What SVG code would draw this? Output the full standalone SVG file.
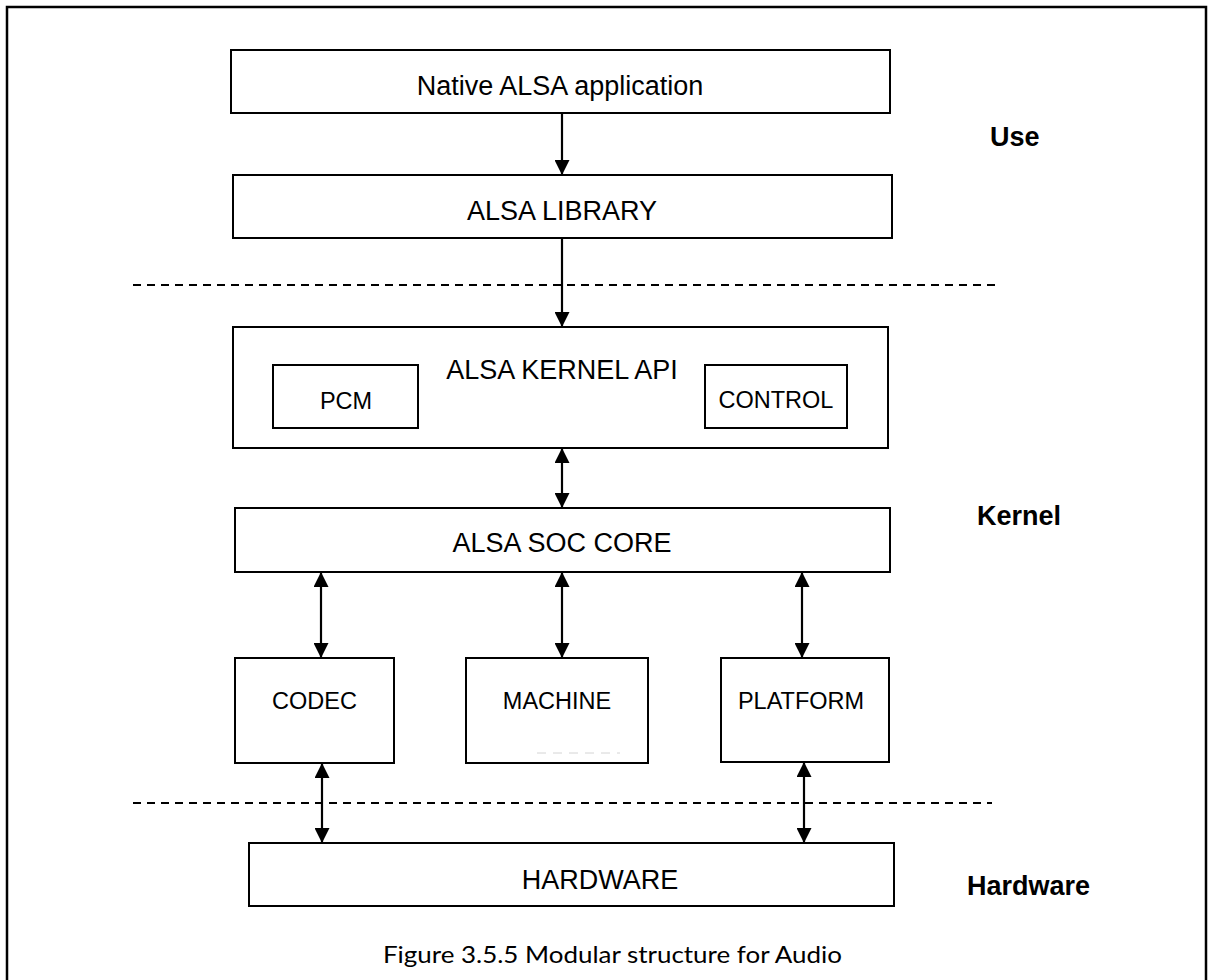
<svg xmlns="http://www.w3.org/2000/svg" width="1213" height="980" viewBox="0 0 1213 980">
<style>
.box{fill:#fff;stroke:#000;stroke-width:2}
.t{font-family:"Liberation Sans",Arial,sans-serif;font-size:27px;fill:#000;text-anchor:middle}
.s{font-family:"Liberation Sans",Arial,sans-serif;font-size:23.5px;fill:#000;text-anchor:middle}
.lab{font-family:"Liberation Sans",Arial,sans-serif;font-size:27px;font-weight:bold;fill:#000}
.cap{font-family:Lato,"Open Sans",sans-serif;font-size:23px;fill:#000;text-anchor:middle}
.dash{stroke:#000;stroke-width:1.8;stroke-dasharray:8 6;fill:none}
.c{stroke:#000;stroke-width:2.2;fill:none}
</style>
<defs>
<marker id="ah" viewBox="0 0 15 15" refX="15" refY="7.5" markerWidth="15" markerHeight="15" markerUnits="userSpaceOnUse" orient="auto-start-reverse">
<path d="M0,0 L15,7.5 L0,15 Z" fill="#000"/>
</marker>
</defs>
<rect width="1213" height="980" fill="#fff"/>
<rect x="7" y="7" width="1199" height="1000" fill="none" stroke="#000" stroke-width="2.5"/>

<g id="separators">
<line class="dash" x1="133" y1="285" x2="997" y2="285"/>
<line class="dash" x1="133" y1="803" x2="992" y2="803"/>
</g>

<g id="native-app">
<rect class="box" x="231" y="50" width="659" height="63"/>
<text class="t" x="560" y="95">Native ALSA application</text>
</g>
<g id="alsa-library">
<rect class="box" x="233" y="175" width="659" height="63"/>
<text class="t" x="562" y="220">ALSA LIBRARY</text>
</g>
<g id="kernel-api">
<rect class="box" x="233" y="327" width="655" height="121"/>
<text class="t" x="562" y="379">ALSA KERNEL API</text>
</g>
<g id="pcm">
<rect class="box" x="273" y="365" width="145" height="63"/>
<text class="s" x="346" y="409">PCM</text>
</g>
<g id="control">
<rect class="box" x="705" y="365" width="142" height="63"/>
<text class="s" x="776" y="408">CONTROL</text>
</g>
<g id="soc-core">
<rect class="box" x="235" y="508" width="655" height="64"/>
<text class="t" x="562" y="552">ALSA SOC CORE</text>
</g>
<g id="codec">
<rect class="box" x="235" y="658" width="159" height="105"/>
<text class="s" x="314.5" y="709">CODEC</text>
</g>
<g id="machine">
<rect class="box" x="466" y="658" width="182" height="105"/>
<text class="s" x="557" y="709">MACHINE</text>
<line x1="537" y1="753" x2="620" y2="753" stroke="#d4d4d4" stroke-width="1" stroke-dasharray="9 7"/>
</g>
<g id="platform">
<rect class="box" x="721" y="658" width="168" height="104"/>
<text class="s" x="801" y="709">PLATFORM</text>
</g>
<g id="hardware">
<rect class="box" x="249" y="843" width="645" height="63"/>
<text class="t" x="600" y="889">HARDWARE</text>
</g>

<g id="layer-labels">
<text class="lab" x="990" y="146">Use</text>
<text class="lab" x="977" y="525">Kernel</text>
<text class="lab" x="967" y="895">Hardware</text>
</g>

<g id="connectors">
<line class="c" x1="562" y1="113" x2="562" y2="175" marker-end="url(#ah)"/>
<line class="c" x1="562" y1="238" x2="562" y2="327" marker-end="url(#ah)"/>
<line class="c" x1="562" y1="448" x2="562" y2="508" marker-start="url(#ah)" marker-end="url(#ah)"/>
<line class="c" x1="321" y1="572" x2="321" y2="658" marker-start="url(#ah)" marker-end="url(#ah)"/>
<line class="c" x1="562" y1="572" x2="562" y2="658" marker-start="url(#ah)" marker-end="url(#ah)"/>
<line class="c" x1="802" y1="572" x2="802" y2="658" marker-start="url(#ah)" marker-end="url(#ah)"/>
<line class="c" x1="322" y1="763" x2="322" y2="843" marker-start="url(#ah)" marker-end="url(#ah)"/>
<line class="c" x1="804" y1="762" x2="804" y2="843" marker-start="url(#ah)" marker-end="url(#ah)"/>
</g>

<text class="cap" x="612.5" y="963" textLength="459" lengthAdjust="spacingAndGlyphs">Figure 3.5.5 Modular structure for Audio</text>
</svg>
